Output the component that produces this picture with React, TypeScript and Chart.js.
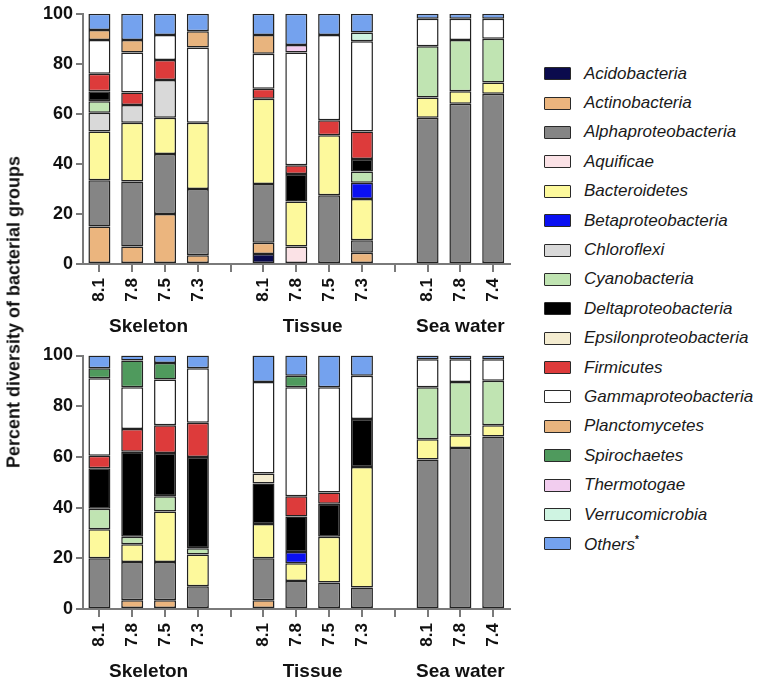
import React, { useEffect, useRef } from 'react';
import { Chart, registerables } from 'chart.js';

Chart.register(...registerables);

const FONT = '"Liberation Sans", Arial, Helvetica, sans-serif';

// 13 slots: 4 Skeleton, gap, 4 Tissue, gap, 3 Sea water
const tickLabels = ['8.1', '7.8', '7.5', '7.3', '', '8.1', '7.8', '7.5', '7.3', '', '8.1', '7.8', '7.4'];
const groupNames = ['Skeleton', 'Tissue', 'Sea water'];
const groupCenters = [1.5, 6.5, 11]; // in slot units

const seriesNames = [
  'Acidobacteria', 'Actinobacteria', 'Alphaproteobacteria', 'Aquificae', 'Bacteroidetes',
  'Betaproteobacteria', 'Chloroflexi', 'Cyanobacteria', 'Deltaproteobacteria',
  'Epsilonproteobacteria', 'Firmicutes', 'Gammaproteobacteria', 'Planctomycetes',
  'Spirochaetes', 'Thermotogae', 'Verrucomicrobia', 'Others',
];
const seriesColors = [
  '#0b0b4d', '#ebb57e', '#858585', '#fbe2e6', '#fdf99c',
  '#0a10f2', '#d9d9d9', '#c0e4b2', '#000000',
  '#f4ecd0', '#dd3b3b', '#ffffff', '#e8b47e',
  '#4f9a5d', '#f2cdef', '#cff4e2', '#74a2ee',
];

// ---- Top panel ----
const topAcidobacteria = [0, 0, 0, 0, 0, 4, 0, 0, 0, 0, 0, 0, 0];
const topActinobacteria = [15, 7, 20, 3.5, 0, 4.5, 0, 0, 4.5, 0, 0, 0, 0];
const topAlphaproteobacteria = [18.5, 26, 24, 26.5, 0, 23.5, 0, 27.5, 5, 0, 58.5, 64, 68];
const topAquificae = [0, 0, 0, 0, 0, 0, 7, 0, 0, 0, 0, 0, 0];
const topBacteroidetes = [19.5, 23.5, 14.5, 26.5, 0, 34, 18, 24, 16.5, 0, 8, 5, 4.5];
const topBetaproteobacteria = [0, 0, 0, 0, 0, 0, 0, 0, 6.5, 0, 0, 0, 0];
const topChloroflexi = [7.5, 7, 15, 0, 0, 0, 0, 0, 0, 0, 0, 0, 0];
const topCyanobacteria = [4.5, 0, 0, 0, 0, 0, 0, 0, 4.5, 0, 20.5, 20.5, 17.5];
const topDeltaproteobacteria = [4, 0, 0, 0, 0, 0, 11, 0, 5, 0, 0, 0, 0];
const topEpsilonproteobacteria = [0, 0, 0, 0, 0, 0, 0, 0, 0, 0, 0, 0, 0];
const topFirmicutes = [7, 5, 8, 0, 0, 4, 3.5, 6, 11, 0, 0, 0, 0];
const topGammaproteobacteria = [13.5, 16, 10, 30, 0, 14, 45, 34, 36, 0, 11, 8.5, 8];
const topPlanctomycetes = [4, 5, 0, 6.5, 0, 7.5, 0, 0, 0, 0, 0, 0, 0];
const topSpirochaetes = [0, 0, 0, 0, 0, 0, 0, 0, 0, 0, 0, 0, 0];
const topThermotogae = [0, 0, 0, 0, 0, 0, 3, 0, 0, 0, 0, 0, 0];
const topVerrucomicrobia = [0, 0, 0, 0, 0, 0, 0, 0, 3.5, 0, 0, 0, 0];
const topOthers = [6.5, 10.5, 8.5, 7, 0, 8.5, 12.5, 8.5, 7.5, 0, 2, 2, 2];

// ---- Bottom panel ----
const botAcidobacteria = [0, 0, 0, 0, 0, 0, 0, 0, 0, 0, 0, 0, 0];
const botActinobacteria = [0, 3.5, 3.5, 0, 0, 3.5, 0, 0, 0, 0, 0, 0, 0];
const botAlphaproteobacteria = [20, 15, 15, 9, 0, 16.5, 11, 10.5, 8.5, 0, 59, 63.5, 68];
const botAquificae = [0, 0, 0, 0, 0, 0, 0, 0, 0, 0, 0, 0, 0];
const botBacteroidetes = [11.5, 7, 20, 12.5, 0, 13.5, 7, 18, 47.5, 0, 8, 5, 4.5];
const botBetaproteobacteria = [0, 0, 0, 0, 0, 0, 4.5, 0, 0, 0, 0, 0, 0];
const botChloroflexi = [0, 0, 0, 0, 0, 0, 0, 0, 0, 0, 0, 0, 0];
const botCyanobacteria = [8, 3, 6, 2.5, 0, 0, 0, 0, 0, 0, 20.5, 21, 17.5];
const botDeltaproteobacteria = [16, 33.5, 17, 36, 0, 16, 14, 13, 19, 0, 0, 0, 0];
const botEpsilonproteobacteria = [0, 0, 0, 0, 0, 4, 0, 0, 0, 0, 0, 0, 0];
const botFirmicutes = [5, 9, 11, 13.5, 0, 0, 8, 4.5, 0, 0, 0, 0, 0];
const botGammaproteobacteria = [30.5, 16.5, 18, 21.5, 0, 36, 43, 41.5, 17, 0, 11, 9, 8.5];
const botPlanctomycetes = [0, 0, 0, 0, 0, 0, 0, 0, 0, 0, 0, 0, 0];
const botSpirochaetes = [4, 10.5, 6.5, 0, 0, 0, 4.5, 0, 0, 0, 0, 0, 0];
const botThermotogae = [0, 0, 0, 0, 0, 0, 0, 0, 0, 0, 0, 0, 0];
const botVerrucomicrobia = [0, 0, 0, 0, 0, 0, 0, 0, 0, 0, 0, 0, 0];
const botOthers = [5, 2, 3, 5, 0, 10.5, 8, 12.5, 8, 0, 1.5, 1.5, 1.5];

const topSeries = [
  topAcidobacteria, topActinobacteria, topAlphaproteobacteria, topAquificae, topBacteroidetes,
  topBetaproteobacteria, topChloroflexi, topCyanobacteria, topDeltaproteobacteria,
  topEpsilonproteobacteria, topFirmicutes, topGammaproteobacteria, topPlanctomycetes,
  topSpirochaetes, topThermotogae, topVerrucomicrobia, topOthers,
];
const botSeries = [
  botAcidobacteria, botActinobacteria, botAlphaproteobacteria, botAquificae, botBacteroidetes,
  botBetaproteobacteria, botChloroflexi, botCyanobacteria, botDeltaproteobacteria,
  botEpsilonproteobacteria, botFirmicutes, botGammaproteobacteria, botPlanctomycetes,
  botSpirochaetes, botThermotogae, botVerrucomicrobia, botOthers,
];

// group-label axis: half-slot grid (27 points, no offset) so group centres fall on integer indices
const groupAxisLabels: string[] = Array.from({ length: tickLabels.length * 2 + 1 }, () => '');
groupCenters.forEach((c, i) => { groupAxisLabels[Math.round((c + 0.5) * 2)] = groupNames[i]; });

const AXIS_COLOR = '#7a7a7a';

function Panel(props: { series: number[][]; width: number; height: number; padTop: number; xH: number; x2H: number; top: number }) {
  const ref = useRef<HTMLCanvasElement | null>(null);
  useEffect(() => {
    if (!ref.current) return;
    const datasets = props.series.map((vals, i) => ({
      label: seriesNames[i],
      data: vals.map((v) => (v ? v : null)),
      backgroundColor: seriesColors[i],
      borderColor: '#222222',
      borderWidth: 1.5,
      borderSkipped: false as const,
      categoryPercentage: 1,
      barPercentage: 0.67,
      xAxisID: 'x',
      yAxisID: 'y',
    }));
    const chart = new Chart(ref.current, {
      type: 'bar',
      data: { labels: tickLabels, datasets },
      options: {
        animation: false,
        responsive: false,
        layout: { padding: { top: props.padTop, right: 10, left: 0, bottom: 0 } },
        plugins: { legend: { display: false }, tooltip: { enabled: false } },
        scales: {
          x: {
            type: 'category',
            stacked: true,
            offset: true,
            weight: 0,
            grid: { offset: false, drawOnChartArea: false, drawTicks: true, tickLength: 8, color: AXIS_COLOR, lineWidth: 2 },
            border: { display: true, color: AXIS_COLOR, width: 2 },
            ticks: {
              autoSkip: false, maxRotation: 90, minRotation: 90, padding: 6, color: '#111',
              font: { size: 17, weight: 'bold', family: FONT },
            },
            afterFit: (s: any) => { s.height = props.xH; },
          },
          x2: {
            type: 'category',
            position: 'bottom',
            weight: 1,
            labels: groupAxisLabels,
            offset: false,
            grid: { display: false, drawTicks: false },
            border: { display: false },
            ticks: {
              autoSkip: false, maxRotation: 0, minRotation: 0, padding: 0, color: '#111',
              font: { size: 19, weight: 'bold', family: FONT },
            },
            afterFit: (s: any) => { s.height = props.x2H; },
          },
          y: {
            stacked: true,
            min: 0,
            max: 100,
            grid: { drawOnChartArea: false, drawTicks: true, tickLength: 7, color: AXIS_COLOR, lineWidth: 2 },
            border: { display: true, color: AXIS_COLOR, width: 2 },
            ticks: { stepSize: 20, padding: 3, color: '#111', font: { size: 18, weight: 'bold', family: FONT } },
            afterFit: (s: any) => { s.width = 83; },
          },
        },
      } as any,
    });
    return () => chart.destroy();
  }, []);
  return (
    <canvas
      ref={ref}
      width={props.width}
      height={props.height}
      style={{ position: 'absolute', left: 0, top: props.top, width: props.width, height: props.height, display: 'block' }}
    />
  );
}

function Legend() {
  return (
    <div style={{ position: 'absolute', left: 544, top: 59, fontFamily: FONT }}>
      {seriesNames.map((name, i) => (
        <div key={name} style={{ display: 'flex', alignItems: 'center', height: 29.4 }}>
          <div style={{ width: 25, height: 11, background: seriesColors[i], border: '1.5px solid #2a2a2a', borderRadius: 1 }} />
          <span style={{ marginLeft: 13, fontStyle: 'italic', fontSize: 17, color: '#1a1a1a', whiteSpace: 'nowrap' }}>
            {name === 'Others' ? (<>Others<sup style={{ fontSize: 10, fontStyle: 'normal', fontWeight: 'bold' }}>*</sup></>) : name}
          </span>
        </div>
      ))}
    </div>
  );
}

export default function App() {
  return (
    <div style={{ position: 'absolute', left: 0, top: 0, width: 783, height: 681, background: '#fff', overflow: 'hidden' }}>
      <Panel series={topSeries} width={520} height={337} padTop={12} xH={51} x2H={22} top={0} />
      <Panel series={botSeries} width={520} height={341} padTop={15.5} xH={51} x2H={21} top={340} />
      <div
        style={{
          position: 'absolute', left: 14, top: 312, transform: 'translate(-50%, -50%) rotate(-90deg)',
          whiteSpace: 'nowrap', fontFamily: FONT, fontWeight: 'bold', fontSize: 18, color: '#111',
        }}
      >
        Percent diversity of bacterial groups
      </div>
      <Legend />
    </div>
  );
}
